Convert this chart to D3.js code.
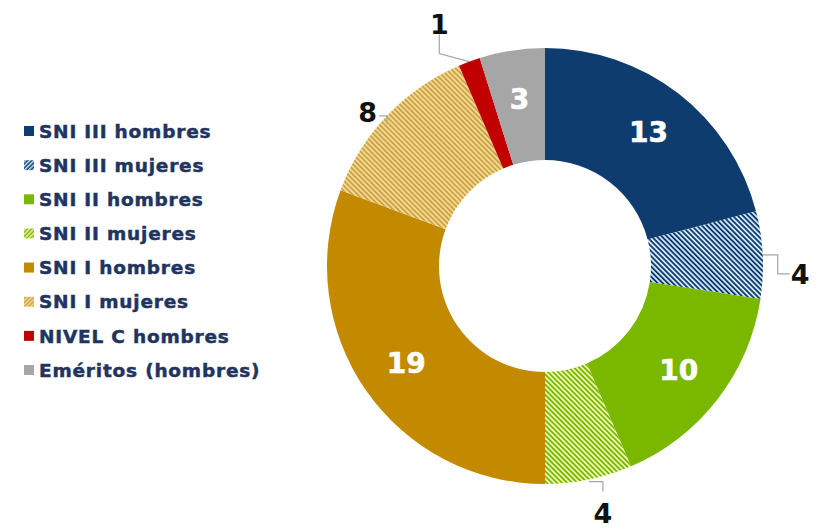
<!DOCTYPE html>
<html>
<head>
<meta charset="UTF-8">
<script src="https://d3js.org/d3.v7.min.js"></script>
<style>
  body { margin: 0; background: #fff; }
  svg { display: block; }
</style>
</head>
<body>
<script>
// data
const categories = ['SNI III hombres', 'SNI III mujeres', 'SNI II hombres', 'SNI II mujeres',
                    'SNI I hombres', 'SNI I mujeres', 'NIVEL C hombres', 'Eméritos (hombres)'];
const values = [13, 4, 10, 4, 19, 8, 1, 3];
const baseColors = ['#0f3c6e', '#0f3c6e', '#7ab800', '#7ab800', '#c38a00', '#f6d98c', '#c00000', '#a6a6a6'];
const stripeColors = [null, '#cfe4f5', null, '#eef7b0', null, '#c9a24a', null, null];
const insideLabel = [true, false, true, false, true, false, false, true];

const width = 817, height = 531;
const cx = 545, cy = 266, outerR = 218, innerR = 106;

const svg = d3.select('body').append('svg')
  .attr('width', width).attr('height', height);

const defs = svg.append('defs');
function addPattern(id, bg, fg, angle, size) {
  const p = defs.append('pattern')
    .attr('id', id)
    .attr('patternUnits', 'userSpaceOnUse')
    .attr('width', size).attr('height', size)
    .attr('patternTransform', 'rotate(' + angle + ')');
  p.append('rect').attr('width', size).attr('height', size).attr('fill', bg);
  p.append('rect').attr('width', size / 2).attr('height', size).attr('fill', fg);
}
categories.forEach((c, i) => {
  if (stripeColors[i]) {
    addPattern('hatch' + i, baseColors[i], stripeColors[i], -45, 3.6);
    addPattern('lhatch' + i, baseColors[i], stripeColors[i], 45, 3);
  }
});
const fillFor = (i, legend) => stripeColors[i] ? 'url(#' + (legend ? 'lhatch' : 'hatch') + i + ')' : baseColors[i];

const pie = d3.pie().sort(null).value(d => d);
const arcs = pie(values);
const arc = d3.arc().innerRadius(innerR).outerRadius(outerR);

const g = svg.append('g').attr('transform', 'translate(' + cx + ',' + cy + ')');
g.selectAll('path.slice')
  .data(arcs)
  .enter()
  .append('path')
  .attr('class', 'slice')
  .attr('d', arc)
  .attr('fill', (d, i) => fillFor(i, false));

// inside labels
const labelArc = d3.arc().innerRadius(169).outerRadius(169);
g.selectAll('text.inside')
  .data(arcs.filter((d, i) => insideLabel[i]))
  .enter()
  .append('text')
  .attr('class', 'inside')
  .attr('transform', d => 'translate(' + labelArc.centroid(d) + ')')
  .attr('text-anchor', 'middle')
  .attr('dy', '0.36em')
  .style('font-family', 'DejaVu Sans, Verdana, sans-serif')
  .style('font-weight', 'bold')
  .style('font-size', '28px')
  .style('stroke', '#fff')
  .style('stroke-width', 0.6)
  .attr('fill', '#fff')
  .text(d => d.value);

// outside labels with elbow leader lines
const outsideLayout = {
  1: { ex: 15, ly: 19, anchor: 'start' },
  3: { ex: 14, ly: 12, anchor: 'middle' },
  5: { ex: -6, ly: -8, anchor: 'end' },
  6: { ex: -30, ey: -8, ly: -27, anchor: 'middle' }
};
const edgeArc = d3.arc().innerRadius(outerR).outerRadius(outerR);
arcs.forEach((d, i) => {
  if (insideLabel[i]) return;
  const L = outsideLayout[i];
  const [px, py] = edgeArc.centroid(d);
  let pts;
  if (i === 1) {
    pts = [[px, py], [px + L.ex, py], [px + L.ex, py + L.ly], [px + L.ex + 12, py + L.ly]];
  } else if (i === 3) {
    pts = [[px, py + 2], [px + L.ex, py + 2], [px + L.ex, py + L.ly]];
  } else if (i === 5) {
    pts = [[px, py + 8], [px, py], [px - 8, py]];
  } else {
    pts = [[px, py], [px + L.ex, py + L.ey], [px + L.ex, py + L.ly]];
  }
  g.append('path')
    .attr('d', d3.line()(pts))
    .attr('fill', 'none')
    .attr('stroke', '#a6a6a6')
    .attr('stroke-width', 1.2);
  const last = pts[pts.length - 1];
  let tx = last[0], ty = last[1];
  if (i === 1) { tx += 1; }
  if (i === 3) { ty += 22; }
  if (i === 5) { tx -= 2; ty -= 4; }
  if (i === 6) { ty -= 10; }
  g.append('text')
    .attr('x', tx).attr('y', ty)
    .attr('text-anchor', L.anchor)
    .attr('dy', '0.36em')
    .style('font-family', 'DejaVu Sans, Verdana, sans-serif')
    .style('font-weight', 'bold')
    .style('font-size', '27px')
    .attr('fill', '#111')
    .text(d.value);
});

// legend
const legendY = d3.scalePoint().domain(categories).range([131, 370]);
const legend = svg.append('g');
const rows = legend.selectAll('g.row')
  .data(categories)
  .enter()
  .append('g')
  .attr('class', 'row')
  .attr('transform', d => 'translate(24,' + legendY(d) + ')');
rows.append('rect')
  .attr('x', 0).attr('y', -5)
  .attr('width', 10).attr('height', 10)
  .attr('fill', (d, i) => fillFor(i, true));
rows.append('text')
  .attr('x', 15)
  .attr('dy', '0.36em')
  .style('font-family', 'DejaVu Sans, Verdana, sans-serif')
  .style('font-weight', 'bold')
  .style('font-size', '18.5px')
  .style('letter-spacing', '0.8px')
  .style('stroke', '#1f3560')
  .style('stroke-width', 0.5)
  .attr('fill', '#1f3560')
  .text(d => d);
</script>
</body>
</html>
